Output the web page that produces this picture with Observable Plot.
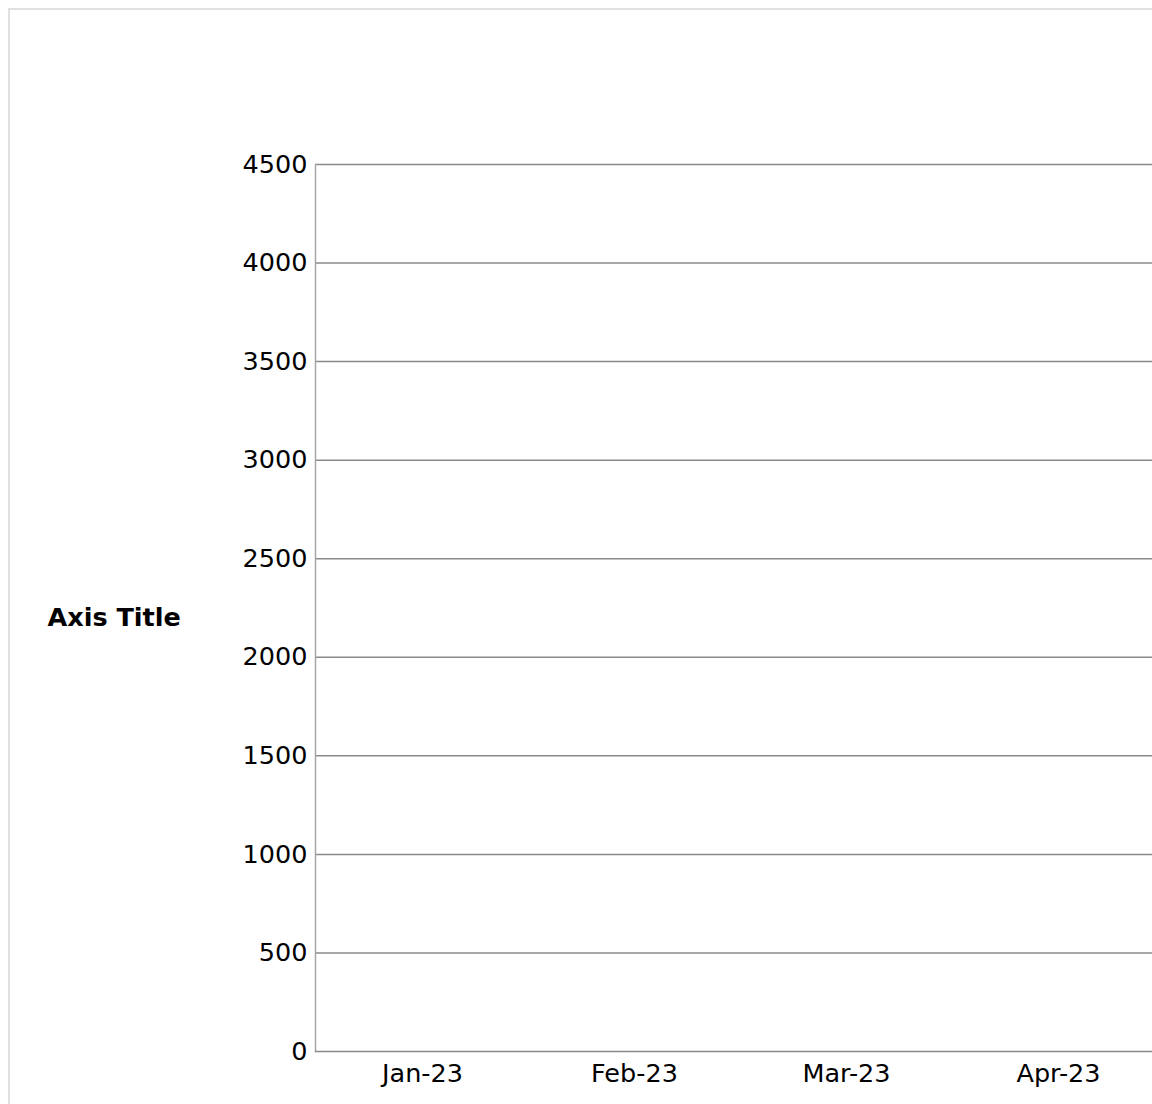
<!DOCTYPE html>
<html>
<head>
<meta charset="utf-8">
<script src="https://cdn.jsdelivr.net/npm/d3@7"></script>
<script src="https://cdn.jsdelivr.net/npm/@observablehq/plot@0.6"></script>
<style>
  html, body { margin: 0; padding: 0; overflow: hidden; background: #fff; width: 1152px; height: 1104px; }
  #frame { position: absolute; left: 8px; top: 8px; width: 1300px; height: 1300px; border: 2px solid #e0e0e0; box-sizing: border-box; }
  #chart { position: absolute; left: 0; top: 0; width: 1165px; height: 1104px; }
  #chart svg { overflow: visible; max-width: none !important; width: 1165px !important; height: 1104px !important; }
</style>
</head>
<body>
<div id="frame"></div>
<div id="chart"></div>
<script>
const categories = ["Jan-23", "Feb-23", "Mar-23", "Apr-23"];
const seriesValues = []; // the chart shows no data
const yTicks = [0, 500, 1000, 1500, 2000, 2500, 3000, 3500, 4000, 4500];
const yMax = 4500;
const axisTitle = "Axis Title";

const gridTicks = yTicks.filter(d => d > 0);

const chart = Plot.plot({
  width: 1165,
  height: 1104,
  marginLeft: 315,
  marginRight: 0,
  marginTop: 164,
  marginBottom: 53,
  style: { fontFamily: "DejaVu Sans", fontSize: "25.5px", color: "#000", background: "transparent" },
  x: { type: "band", domain: categories, range: [315, 1165], padding: 0, label: null },
  y: { domain: [0, yMax], label: null },
  marks: [
    Plot.ruleY(gridTicks, { stroke: "#8a8a8a", strokeWidth: 1.5, strokeOpacity: 1 }),
    Plot.barY(seriesValues, { x: "category", y: "value", fill: "#4472c4" }),
    Plot.frame({ anchor: "left", stroke: "#a6a6a6", strokeWidth: 1.5 }),
    Plot.ruleY([0], { stroke: "#8a8a8a", strokeWidth: 1.5, strokeOpacity: 1 }),
    Plot.axisY({ ticks: yTicks, tickSize: 0, tickPadding: 8, tickFormat: d => String(d), fill: "#000", fontSize: 25.5, label: null }),
    Plot.axisX({ tickSize: 0, tickPadding: 12, fill: "#000", fontSize: 25.5, label: null }),
    Plot.text([axisTitle], { frameAnchor: "left", text: d => d, dx: -268, dy: 10, textAnchor: "start", fontWeight: "bold", fontSize: 25.5, fill: "#000" })
  ]
});
document.getElementById("chart").appendChild(chart);
</script>
</body>
</html>
